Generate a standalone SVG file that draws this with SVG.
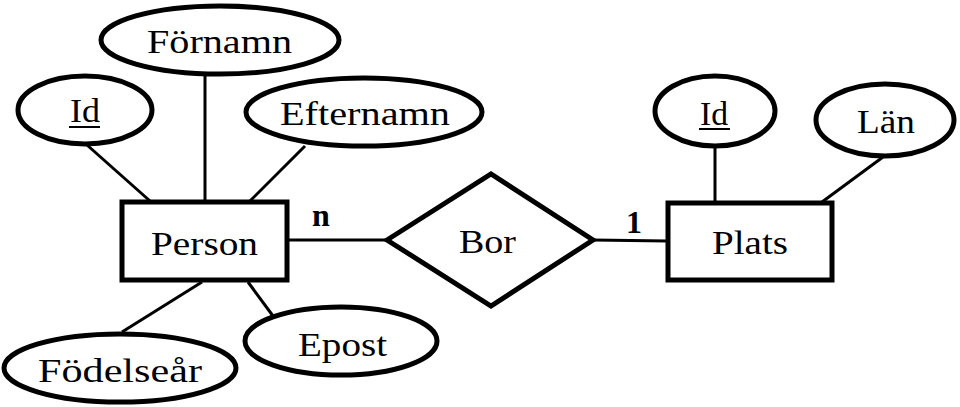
<svg xmlns="http://www.w3.org/2000/svg" width="960" height="407" viewBox="0 0 960 407">
<style>
.sh{fill:#fff;stroke:#000;stroke-width:5}
.ln{stroke:#000;stroke-width:3;fill:none}
text{font-family:"Liberation Serif","DejaVu Serif",serif;font-size:33px;fill:#000}
.b{font-weight:bold;font-size:32px}
.u{stroke:#000;stroke-width:2}
</style>
<rect width="960" height="407" fill="#fff"/>
<g id="connectors">
<line class="ln" x1="87" y1="145" x2="150" y2="201"/>
<line class="ln" x1="205" y1="74" x2="205" y2="201"/>
<line class="ln" x1="305" y1="146" x2="250" y2="201"/>
<line class="ln" x1="202" y1="282" x2="122" y2="332"/>
<line class="ln" x1="248" y1="282" x2="273" y2="316"/>
<line class="ln" x1="288" y1="240" x2="387" y2="240"/>
<line class="ln" x1="593" y1="240" x2="667" y2="241"/>
<line class="ln" x1="715" y1="147" x2="715" y2="202"/>
<line class="ln" x1="883" y1="157" x2="822" y2="202"/>
<text class="b" x="312" y="226">n</text>
<text class="b" x="626" y="233">1</text>
</g>
<g id="fornamn"><ellipse class="sh" cx="220" cy="40" rx="119" ry="34"/><text x="147" y="53" textLength="145" lengthAdjust="spacingAndGlyphs">Förnamn</text></g>
<g id="id-person"><ellipse class="sh" cx="85" cy="110" rx="67" ry="34"/><text x="70" y="122" textLength="30" lengthAdjust="spacingAndGlyphs">Id</text><line class="u" x1="69" y1="127" x2="100" y2="127"/></g>
<g id="efternamn"><ellipse class="sh" cx="364" cy="112" rx="118" ry="34"/><text x="280" y="125" textLength="170" lengthAdjust="spacingAndGlyphs">Efternamn</text></g>
<g id="person"><rect class="sh" x="122" y="202" width="165" height="78"/><text x="151" y="255" textLength="107" lengthAdjust="spacingAndGlyphs">Person</text></g>
<g id="fodelsear"><ellipse class="sh" cx="120" cy="368" rx="116" ry="34"/><text x="38" y="382" textLength="164" lengthAdjust="spacingAndGlyphs">Födelseår</text></g>
<g id="epost"><ellipse class="sh" cx="341" cy="341" rx="96" ry="34"/><text x="298" y="356" textLength="89" lengthAdjust="spacingAndGlyphs">Epost</text></g>
<g id="bor"><polygon class="sh" points="387,240 491,174 593,240 491,306"/><text x="459" y="253" textLength="57" lengthAdjust="spacingAndGlyphs">Bor</text></g>
<g id="plats"><rect class="sh" x="668" y="203" width="164" height="77"/><text x="712" y="254" textLength="76" lengthAdjust="spacingAndGlyphs">Plats</text></g>
<g id="id-plats"><ellipse class="sh" cx="715" cy="111" rx="60" ry="35"/><text x="700" y="125" textLength="28" lengthAdjust="spacingAndGlyphs">Id</text><line class="u" x1="699" y1="129" x2="730" y2="129"/></g>
<g id="lan"><ellipse class="sh" cx="885" cy="120" rx="69" ry="36"/><text x="857" y="133" textLength="58" lengthAdjust="spacingAndGlyphs">Län</text></g>
</svg>
